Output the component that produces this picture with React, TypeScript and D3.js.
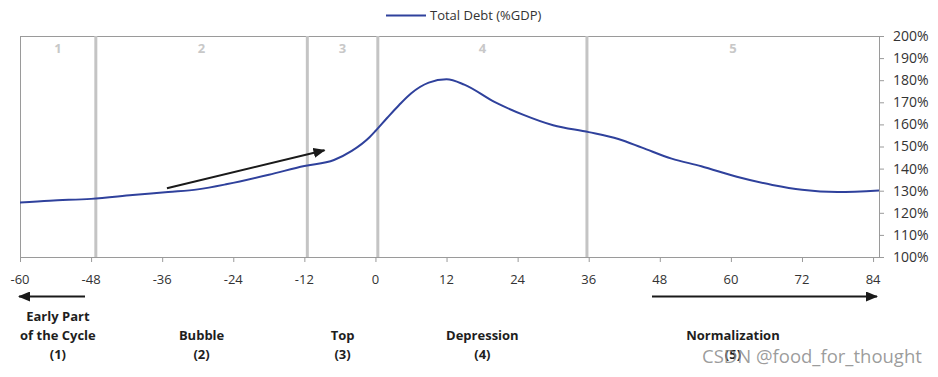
import React from "react";
import * as d3 from "d3";

const months = [-60, -55, -48, -41, -35, -30, -25, -18, -12, -7, -4, -1, 0, 2, 4, 6, 9, 12, 15, 20, 25, 30, 36, 41, 45, 50, 55, 61, 67, 72, 78, 85];
const debt = [124.6, 125.5, 126.3, 128, 129.4, 130.6, 133, 137.2, 141.2, 143.9, 148, 154.2, 157, 163, 168.8, 174, 178.9, 180.4, 178, 170.3, 164.3, 159.6, 156.5, 153.4, 149.5, 144.5, 141.1, 136.3, 132.6, 130.4, 129.4, 130.1];
const xTicks = [-60, -48, -36, -24, -12, 0, 12, 24, 36, 48, 60, 72, 84];
const yTicks = [100, 110, 120, 130, 140, 150, 160, 170, 180, 190, 200];
const phaseBounds = [-47.2, -11.5, 0.4, 35.7];
const phaseNums = ["1", "2", "3", "4", "5"];
const phaseLabels = [["Early Part", "of the Cycle", "(1)"], ["Bubble", "(2)"], ["Top", "(3)"], ["Depression", "(4)"], ["Normalization", "(5)"]];
const bubbleArrow = [[-35.2, 131.1], [-8.6, 148.3]];
const legendLabel = "Total Debt (%GDP)";
const watermark = "CSDN @food_for_thought";

export default function App() {
  const W = 938, H = 377;
  const left = 20, right = 879, top = 36, bottom = 257;
  const x = d3.scaleLinear().domain([-60, 85]).range([left, right]);
  const y = d3.scaleLinear().domain([100, 200]).range([bottom, top]);
  const pts: [number, number][] = months.map((m, i) => [m, debt[i]]);
  const line = d3.line<[number, number]>().x(d => x(d[0])).y(d => y(d[1])).curve(d3.curveMonotoneX);
  const edges = [-60, ...phaseBounds, 85];
  const centers = phaseNums.map((_, i) => (x(edges[i]) + x(edges[i + 1])) / 2);
  const font = "'Open Sans', 'Noto Sans', sans-serif";
  const arrowY = 296.5;
  return (
    <svg width={W} height={H} style={{ position: "absolute", left: 0, top: 0, background: "#fff" }} fontFamily={font}>
      <defs>
        <marker id="ah" viewBox="0 0 12 10" refX="11" refY="5" markerWidth="12" markerHeight="10" markerUnits="userSpaceOnUse" orient="auto">
          <path d="M0,0 L12,5 L0,10 Z" fill="#1a1a1a" />
        </marker>
      </defs>
      {/* legend */}
      <line x1={386} x2={426} y1={15.5} y2={15.5} stroke="#2f419c" strokeWidth={2} />
      <text x={430} y={15.5} dy="0.35em" fontSize={13} fill="#333">{legendLabel}</text>
      {/* frame */}
      <line x1={left} x2={right} y1={top + 0.5} y2={top + 0.5} stroke="#9a9a9a" />
      <line x1={left + 0.5} x2={left + 0.5} y1={top} y2={bottom} stroke="#9a9a9a" />
      {/* phase boundaries */}
      {phaseBounds.map((b, i) => (
        <line key={i} x1={x(b)} x2={x(b)} y1={top} y2={bottom} stroke="#c4c4c4" strokeWidth={3} />
      ))}
      {phaseNums.map((n, i) => (
        <text key={i} x={centers[i]} y={48} dy="0.35em" textAnchor="middle" fontSize={13} fontWeight="bold" fill="#c8c8c8">{n}</text>
      ))}
      {/* right axis */}
      <line x1={right + 0.5} x2={right + 0.5} y1={top} y2={bottom} stroke="#9a9a9a" />
      {yTicks.map(t => (
        <g key={t}>
          <line x1={right} x2={right + 5} y1={y(t) + 0.5} y2={y(t) + 0.5} stroke="#9a9a9a" />
          <text x={893} y={y(t)} dy="0.35em" fontSize={14} fill="#333">{t + "%"}</text>
        </g>
      ))}
      {/* bottom axis */}
      <line x1={left} x2={right} y1={bottom + 0.5} y2={bottom + 0.5} stroke="#9a9a9a" />
      {xTicks.map(t => (
        <g key={t}>
          <line x1={x(t) + 0.5} x2={x(t) + 0.5} y1={bottom} y2={bottom + 5} stroke="#9a9a9a" />
          <text x={x(t)} y={279.5} dy="0.35em" textAnchor="middle" fontSize={13} fill="#333">{String(t)}</text>
        </g>
      ))}
      {/* data line */}
      <path d={line(pts) || ""} fill="none" stroke="#2f419c" strokeWidth={2} />
      {/* bubble arrow */}
      <line x1={x(bubbleArrow[0][0])} y1={y(bubbleArrow[0][1])} x2={x(bubbleArrow[1][0])} y2={y(bubbleArrow[1][1])} stroke="#1a1a1a" strokeWidth={2} markerEnd="url(#ah)" />
      {/* bottom arrows */}
      <line x1={85} x2={19} y1={arrowY} y2={arrowY} stroke="#1a1a1a" strokeWidth={2} markerEnd="url(#ah)" />
      <line x1={652} x2={877} y1={arrowY} y2={arrowY} stroke="#1a1a1a" strokeWidth={2} markerEnd="url(#ah)" />
      {/* phase labels */}
      {phaseLabels.map((lines, i) => {
        const startY = 354 - (lines.length - 1) * 19;
        return lines.map((l, j) => (
          <text key={i + "-" + j} x={centers[i]} y={startY + j * 19} dy="0.35em" textAnchor="middle" fontSize={13} fontWeight="bold" fill="#1e1e1e">{l}</text>
        ));
      })}
      <text x={702} y={357} dy="0.35em" fontSize={18.5} fill="#8a8a8a" fillOpacity={0.85}>{watermark}</text>
    </svg>
  );
}
